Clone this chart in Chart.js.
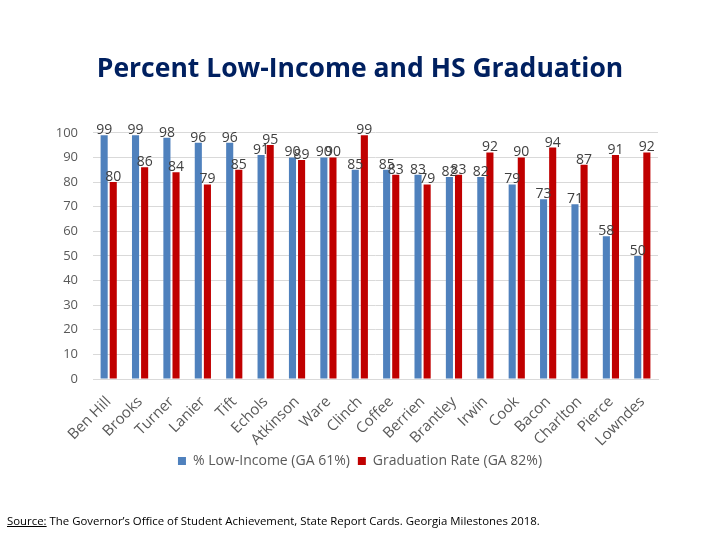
<!DOCTYPE html>
<html>
<head>
<meta charset="utf-8">
<script src="https://cdn.jsdelivr.net/npm/chart.js@4.4.1/dist/chart.umd.min.js"></script>
<style>
    html, body { margin: 0; padding: 0; background: #fff; }
    #wrap { position: relative; width: 720px; height: 540px; }
    #source {
        position: absolute; left: 7px; top: 513px;
        font-family: 'Open Sans', sans-serif; font-size: 11.4px; color: #000;
    }
</style>
</head>
<body>
<div id="wrap">
    <canvas id="chart" width="720" height="540"></canvas>
    <div id="source"><u>Source:</u> The Governor’s Office of Student Achievement, State Report Cards. Georgia Milestones 2018.</div>
</div>
<script>
const counties = ['Ben Hill', 'Brooks', 'Turner', 'Lanier', 'Tift', 'Echols', 'Atkinson', 'Ware', 'Clinch',
    'Coffee', 'Berrien', 'Brantley', 'Irwin', 'Cook', 'Bacon', 'Charlton', 'Pierce', 'Lowndes'];
const lowIncome = [99, 99, 98, 96, 96, 91, 90, 90, 85, 85, 83, 82, 82, 79, 73, 71, 58, 50];
const gradRate = [80, 86, 84, 79, 85, 95, 89, 90, 99, 83, 79, 83, 92, 90, 94, 87, 91, 92];
const yTicks = [0, 10, 20, 30, 40, 50, 60, 70, 80, 90, 100];

const FONT = "'Open Sans', sans-serif";

// value labels above each bar
const barLabels = {
    id: 'barLabels',
    afterDatasetsDraw(chart) {
        const ctx = chart.ctx;
        ctx.save();
        ctx.font = '14px ' + FONT;
        ctx.fillStyle = '#404040';
        ctx.textAlign = 'center';
        ctx.textBaseline = 'bottom';
        chart.data.datasets.forEach((ds, i) => {
            chart.getDatasetMeta(i).data.forEach((bar, j) => {
                ctx.fillText(ds.data[j], bar.x, bar.y + 2);
            });
        });
        ctx.restore();
    }
};

new Chart(document.getElementById('chart').getContext('2d'), {
    type: 'bar',
    data: {
        labels: counties,
        datasets: [{
            label: '% Low-Income (GA 61%)',
            data: lowIncome,
            backgroundColor: '#4F81BD',
            categoryPercentage: 0.58,
            barPercentage: 0.78
        }, {
            label: 'Graduation Rate (GA 82%)',
            data: gradRate,
            backgroundColor: '#C00000',
            categoryPercentage: 0.58,
            barPercentage: 0.78
        }]
    },
    options: {
        responsive: false,
        animation: false,
        layout: { padding: { left: 0, right: 0, top: 0, bottom: 62 } },
        scales: {
            x: {
                grid: { display: false },
                border: { color: '#D9D9D9' },
                ticks: {
                    color: '#595959',
                    font: { family: FONT, size: 15 },
                    minRotation: 45,
                    maxRotation: 45,
                    autoSkip: false,
                    padding: 6
                },
                afterFit(scale) { scale.height = 67; }
            },
            y: {
                min: 0,
                max: 100,
                afterBuildTicks(scale) { scale.ticks = yTicks.map(v => ({ value: v })); },
                grid: { color: '#D9D9D9', drawTicks: false },
                border: { display: false },
                ticks: {
                    color: '#595959',
                    font: { family: FONT, size: 13 },
                    padding: 15
                },
                afterFit(scale) { scale.width = 93; }
            },
            // empty right axis, only keeps the right margin inside the chart box
            yRight: {
                position: 'right',
                min: 0,
                max: 100,
                grid: { display: false },
                border: { display: false },
                ticks: { display: false },
                afterFit(scale) { scale.width = 62; }
            }
        },
        plugins: {
            title: {
                display: true,
                text: 'Percent Low-Income and HS Graduation',
                color: '#002060',
                font: { family: FONT, size: 26.5, weight: 'bold' },
                padding: { top: 54, bottom: 47 }
            },
            legend: {
                position: 'bottom',
                labels: {
                    color: '#595959',
                    font: { family: FONT, size: 14 },
                    boxWidth: 8,
                    boxHeight: 8,
                    padding: 8
                }
            },
            tooltip: { enabled: false }
        }
    },
    plugins: [barLabels]
});
</script>
</body>
</html>
